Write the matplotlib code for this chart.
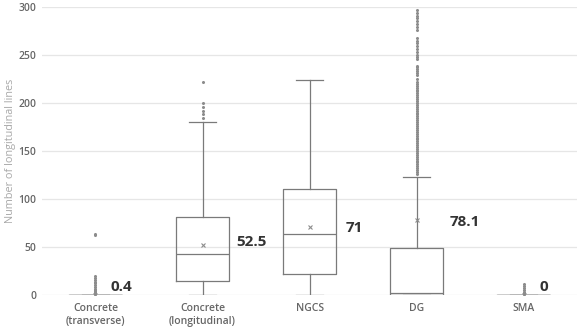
import matplotlib
matplotlib.use("Agg")
import matplotlib.pyplot as plt

# категории и статистика боксов
categories = ["Concrete\n(transverse)", "Concrete\n(longitudinal)", "NGCS", "DG", "SMA"]
q1 = [0, 15, 22, 0, 0]
median = [0, 43, 64, 2, 0]
q3 = [0, 81, 110, 49, 0]
whisker_low = [0, 0, 0, 0, 0]
whisker_high = [0, 180, 224, 123, 0]
means = [0.4, 52.5, 71, 78.1, 0]
mean_labels = ["0.4", "52.5", "71", "78.1", "0"]

# выбросы
outliers_transverse = [1, 2, 3, 4, 5, 6, 8, 10, 12, 14, 16, 18, 20, 62, 64]
outliers_longitudinal = [184, 188, 192, 196, 200, 222]
outliers_ngcs = []
outliers_dg = [126, 128, 130, 132, 134, 136, 138, 140, 142, 144, 146, 148, 150,
               152, 154, 156, 158, 160, 162, 164, 166, 168, 170, 172, 174, 176,
               178, 180, 182, 184, 186, 188, 190, 192, 194, 196, 198, 200, 202,
               204, 206, 208, 210, 212, 214, 216, 218, 220, 222, 225, 229, 231,
               233, 235, 237, 239, 246, 248, 250, 253, 256, 259, 262, 265, 268,
               276, 279, 282, 285, 288, 291, 294, 297]
outliers_sma = [1, 2, 3, 5, 7, 9, 11]
outliers = [outliers_transverse, outliers_longitudinal, outliers_ngcs, outliers_dg, outliers_sma]

stats = []
for i in range(len(categories)):
    stats.append({
        "label": categories[i],
        "q1": q1[i], "med": median[i], "q3": q3[i],
        "whislo": whisker_low[i], "whishi": whisker_high[i],
        "mean": means[i], "fliers": outliers[i],
    })

plt.rcParams['font.family'] = ['Open Sans', 'DejaVu Sans']

fig = plt.figure(figsize=(5.83, 3.3), dpi=100)
ax = fig.add_axes([0.072, 0.106, 0.918, 0.873])

line_color = "#7a7a7a"
ax.bxp(stats, positions=range(len(categories)), widths=0.5, showmeans=True,
       patch_artist=False,
       boxprops=dict(color=line_color, linewidth=0.9),
       medianprops=dict(color=line_color, linewidth=0.9),
       whiskerprops=dict(color=line_color, linewidth=0.9),
       capprops=dict(color=line_color, linewidth=0.9),
       capwidths=0.25,
       flierprops=dict(marker="o", markersize=1.2, markerfacecolor="#8c8c8c",
                       markeredgecolor="#8c8c8c", linestyle="none"),
       meanprops=dict(marker="x", markersize=3.5, markeredgecolor="#8c8c8c",
                      markeredgewidth=0.8))

# подписи средних
label_dx = [0.14, 0.32, 0.34, 0.31, 0.15]
label_y = [8, 55, 70, 76, 8]
for i in range(len(categories)):
    ax.text(i + label_dx[i], label_y[i], mean_labels[i], fontsize=11,
            fontweight="bold", color="#333333", ha="left", va="center")

ax.set_xlim(-0.5, len(categories) - 0.5)
ax.set_ylim(0, 300)
ax.set_yticks(range(0, 301, 50))
ax.grid(axis="y", color="#e6e6e6", linewidth=0.9)
ax.set_axisbelow(True)
for s in ax.spines.values():
    s.set_visible(False)
ax.tick_params(axis="both", length=0, labelsize=7.5, colors="#666666", pad=6)
ax.tick_params(axis="y", pad=4)
for lbl in ax.get_xticklabels() + ax.get_yticklabels():
    lbl.set_fontweight("semibold")
ax.set_ylabel("Number of longitudinal lines", fontsize=7.8, color="#a8a8a8", labelpad=2)

fig.savefig("out.png", dpi=100)
